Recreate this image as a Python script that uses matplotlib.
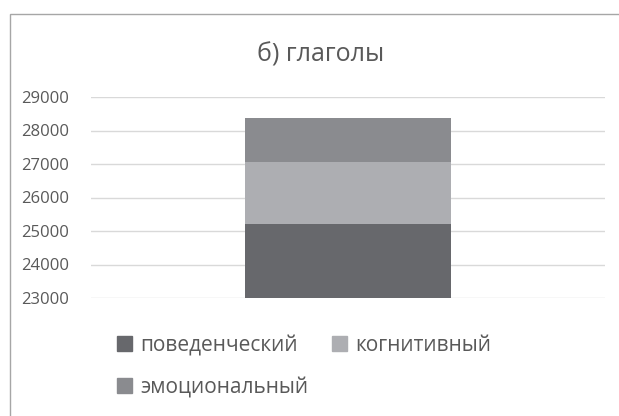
import matplotlib.pyplot as plt
from matplotlib.patches import Rectangle, Patch

# data
categories = ["глаголы"]
series = ["поведенческий", "когнитивный", "эмоциональный"]
behavioral = [25210]
cognitive = [1840]
emotional = [1315]
colors = ["#67686c", "#adaeb2", "#8a8b8f"]

plt.rcParams['font.family'] = ['Open Sans', 'DejaVu Sans']
txt = "#595959"

fig = plt.figure(figsize=(6.19, 4.16), dpi=100)
ax = fig.add_axes([91/619, 1 - 298/416, (605 - 91)/619, (298 - 97)/416])

x = list(range(len(categories)))
bottom2 = [b + c for b, c in zip(behavioral, cognitive)]
ax.bar(x, behavioral, width=0.4, color=colors[0], zorder=2)
ax.bar(x, cognitive, bottom=behavioral, width=0.4, color=colors[1], zorder=2)
ax.bar(x, emotional, bottom=bottom2, width=0.4, color=colors[2], zorder=2)

ax.set_xlim(-0.5, 0.5)
ax.set_ylim(23000, 29000)
ax.set_yticks(range(23000, 29001, 1000))
ax.set_xticks([])
ax.yaxis.grid(True, color="#d9d9d9", linewidth=1, zorder=0)
ax.tick_params(axis='y', length=0, pad=16, labelsize=12, labelcolor=txt)
for s in ax.spines.values():
    s.set_visible(False)

fig.text(321/619, 1 - 55/416, "б) глаголы", ha='center', va='center',
         fontsize=18, color=txt)

handles = [Patch(color=colors[0], label=series[0]),
           Patch(color=colors[2], label=series[2]),
           Patch(color=colors[1], label=series[1])]
fig.legend(handles=handles, ncol=2, loc='upper left',
           bbox_to_anchor=(117/619, 1 - 335/416), frameon=False,
           borderpad=0, borderaxespad=0,
           fontsize=15, labelcolor=txt, handlelength=0.7, handleheight=0.7,
           handletextpad=0.4, columnspacing=1.15, labelspacing=1.0)

# chart area border
fig.patches.append(Rectangle((10/619, -0.1), 1.0, 1 - 14/416 + 0.1,
                             transform=fig.transFigure, fill=False,
                             edgecolor="#a6a6a6", linewidth=1))

fig.savefig("out.png")
